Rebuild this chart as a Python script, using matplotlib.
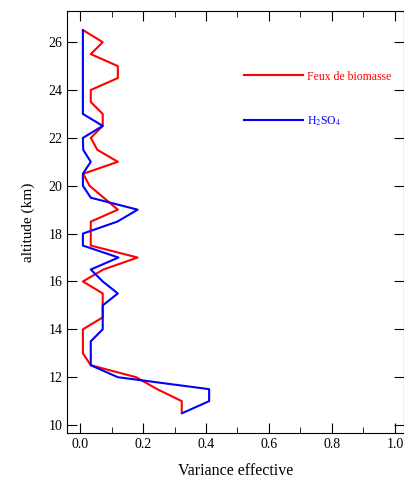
import matplotlib.pyplot as plt
from matplotlib.ticker import MultipleLocator

plt.rcParams['font.family'] = ['Liberation Serif', 'DejaVu Serif']
plt.rcParams['mathtext.fontset'] = 'stix'

# altitudes (km) and effective variance for each profile
altitude = [26.5, 26.0, 25.5, 25.0, 24.5, 24.0, 23.5, 23.0, 22.5, 22.0, 21.5, 21.0,
            20.5, 20.0, 19.5, 19.0, 18.5, 18.0, 17.5, 17.0, 16.5, 16.0, 15.5, 15.0,
            14.5, 14.0, 13.5, 13.0, 12.5, 12.0, 11.5, 11.0, 10.5]
feux = [0.01, 0.072, 0.034, 0.12, 0.12, 0.034, 0.034, 0.072, 0.072, 0.034, 0.055, 0.12,
        0.01, 0.03, 0.075, 0.12, 0.034, 0.034, 0.034, 0.183, 0.074, 0.009, 0.072, 0.072,
        0.072, 0.009, 0.009, 0.009, 0.034, 0.178, 0.245, 0.323, 0.323]
h2so4 = [0.009, 0.009, 0.009, 0.009, 0.009, 0.009, 0.009, 0.009, 0.072, 0.009, 0.01, 0.034,
         0.009, 0.009, 0.034, 0.183, 0.118, 0.009, 0.009, 0.122, 0.034, 0.072, 0.12, 0.072,
         0.072, 0.072, 0.034, 0.034, 0.034, 0.12, 0.41, 0.41, 0.325]

fig = plt.figure(figsize=(4.04, 4.8), dpi=100)
ax = fig.add_axes([0.167, 0.098, 0.833, 0.879])

ax.plot(feux, altitude, color='#ff0000', lw=1.5, label='Feux de biomasse')
ax.plot(h2so4, altitude, color='#0000ff', lw=1.5, label='H$_2$SO$_4$')

ax.set_xlim(-0.04, 1.029)
ax.set_ylim(9.67, 27.3)
ax.xaxis.set_major_locator(MultipleLocator(0.2))
ax.xaxis.set_minor_locator(MultipleLocator(0.1))
ax.yaxis.set_major_locator(MultipleLocator(2))
ax.tick_params(which='both', direction='in', top=True, right=True, labelsize=10)
ax.tick_params(which='major', length=7)
ax.tick_params(which='minor', length=4)

ax.set_xlabel('Variance effective', fontsize=11.5, labelpad=9)
ax.set_ylabel('altitude (km)', fontsize=11, labelpad=10)

leg = ax.legend(loc='upper left', bbox_to_anchor=(0.494, 0.884), frameon=False,
                handlelength=5.0, labelspacing=2.7, handletextpad=0.35,
                fontsize=8.5, labelcolor='linecolor')

plt.savefig('out.png', dpi=100)
